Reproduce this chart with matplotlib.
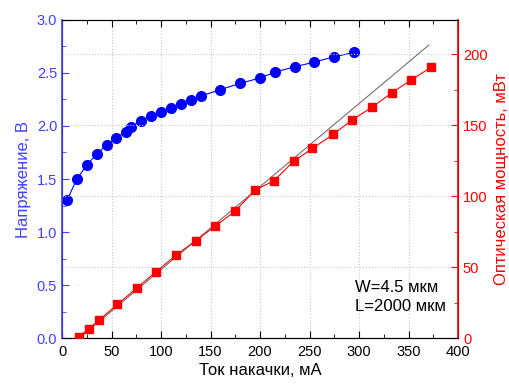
import matplotlib
matplotlib.use("Agg")
import matplotlib.pyplot as plt
from matplotlib.ticker import MultipleLocator

plt.rcParams['font.family'] = ['Liberation Sans', 'DejaVu Sans']

# Voltage vs pump current
current_v = [5, 15, 25, 35, 45, 55, 65, 70, 80, 90, 100, 110, 120, 130, 140,
             160, 180, 200, 215, 235, 255, 275, 295]
voltage = [1.30, 1.50, 1.63, 1.735, 1.82, 1.89, 1.945, 1.99, 2.05, 2.09, 2.13,
           2.17, 2.205, 2.24, 2.28, 2.34, 2.40, 2.45, 2.505, 2.555, 2.60, 2.65, 2.69]

# Optical power vs pump current
current_p = [17, 27, 37, 56, 76, 95, 115, 135, 155, 175, 195, 214, 234, 253,
             274, 293, 313, 333, 352, 373]
power = [1.3, 6.7, 12.8, 24, 35.8, 47, 58.5, 68.8, 79.2, 89.7, 104.5, 111,
         124.7, 133.8, 143.7, 153.8, 162.7, 172.8, 181.7, 190.9]

# linear fit
fit_x = [17, 370.5]
fit_p = [0, 206.5]

BLUE = '#0000ff'
BLUE_AX = '#4040ff'
RED = '#ff0000'

fig = plt.figure(figsize=(5.1, 3.84), dpi=100)
ax = fig.add_axes([0.1216, 0.1185, 0.7765, 0.8307])
ax2 = ax.twinx()

ax.plot(current_v, voltage, '-', color=BLUE, lw=0.8, marker='o', ms=7, zorder=3)
ax2.plot(fit_x, fit_p, '-', color='#707070', lw=0.8, zorder=2)
ax2.plot(current_p, power, '-', color=RED, lw=0.8, marker='s', ms=6, zorder=3)

ax.set_xlim(0, 400)
ax.set_ylim(0, 3.0)
ax2.set_ylim(0, 224.5)

ax.xaxis.set_major_locator(MultipleLocator(50))
ax.xaxis.set_minor_locator(MultipleLocator(25))
ax.yaxis.set_major_locator(MultipleLocator(0.5))
ax.yaxis.set_minor_locator(MultipleLocator(0.25))
ax2.yaxis.set_major_locator(MultipleLocator(50))
ax2.yaxis.set_minor_locator(MultipleLocator(25))
ax.yaxis.set_major_formatter(matplotlib.ticker.FormatStrFormatter('%.1f'))

ax.grid(True, axis='x', color='#c8c8c8', ls=':', lw=0.8)
ax2.grid(True, axis='y', color='#c8c8c8', ls=':', lw=0.8)

ax.tick_params(axis='x', which='both', direction='in', top=True, labelsize=10.5, colors='black', pad=4.5)
ax.tick_params(axis='x', which='major', length=5)
ax.tick_params(axis='x', which='minor', length=3)
ax.tick_params(axis='y', which='both', direction='in', labelsize=10.5, colors=BLUE_AX)
ax.tick_params(axis='y', which='major', length=5)
ax.tick_params(axis='y', which='minor', length=3)
ax2.tick_params(axis='y', which='both', direction='in', labelsize=10.5, colors=RED)
ax2.tick_params(axis='y', which='major', length=5)
ax2.tick_params(axis='y', which='minor', length=3)

ax2.spines['left'].set_color(BLUE_AX)
ax2.spines['right'].set_color(RED)
ax2.spines['left'].set_linewidth(1.2)
ax2.spines['right'].set_linewidth(1.2)

ax.set_xlabel('Ток накачки, мА', fontsize=12, labelpad=3)
ax.set_ylabel('Напряжение, В', fontsize=12, color=BLUE_AX, labelpad=4)
ax2.set_ylabel('Оптическая мощность, мВт', fontsize=12, color=RED, labelpad=5)

ax.text(0.739, 0.13, 'W=4.5 мкм\nL=2000 мкм', transform=ax.transAxes,
        fontsize=12, ha='left', va='center', linespacing=1.3)

fig.savefig('out.png', dpi=100)
